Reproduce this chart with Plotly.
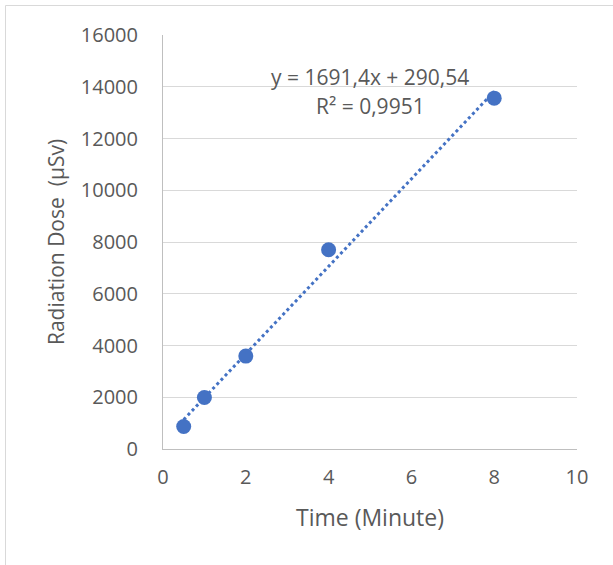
import plotly.graph_objects as go

time_min = [0.5, 1, 2, 4, 8]
dose_usv = [870, 1990, 3590, 7700, 13560]
trend_slope = 1691.4
trend_intercept = 290.54
eq_text = "y = 1691,4x + 290,54"
r2_text = "R² = 0,9951"
x_ticks = [0, 2, 4, 6, 8, 10]
y_ticks = [0, 2000, 4000, 6000, 8000, 10000, 12000, 14000, 16000]

BLUE = "#4472C4"
FONT = "Open Sans"
GREY = "#595959"

trend_x = [time_min[0], time_min[-1]]
trend_y = [trend_slope * v + trend_intercept for v in trend_x]

L, T, PW, PH = 163, 35, 414, 414
W, H = 613, 565

fig = go.Figure()
fig.add_trace(go.Scatter(x=trend_x, y=trend_y, mode="lines",
                         line=dict(color=BLUE, width=3, dash="dot"),
                         hoverinfo="skip", showlegend=False))
fig.add_trace(go.Scatter(x=time_min, y=dose_usv, mode="markers",
                         marker=dict(color=BLUE, size=15),
                         showlegend=False))

fig.add_annotation(x=5.0, y=14380, xref="x", yref="y", text=eq_text,
                   showarrow=False, font=dict(family=FONT, size=21, color=GREY))
fig.add_annotation(x=5.0, y=13240, xref="x", yref="y", text=r2_text,
                   showarrow=False, font=dict(family=FONT, size=21, color=GREY))

fig.add_shape(type="rect", xref="paper", yref="paper",
              x0=(5.5 - L) / PW, x1=3.0, y0=-3.0, y1=1 + (T - 5.5) / PH,
              line=dict(color="#D9D9D9", width=1), fillcolor="rgba(0,0,0,0)", layer="below")

fig.update_layout(
    width=W, height=H,
    margin=dict(l=L, r=W - L - PW, t=T, b=H - T - PH),
    paper_bgcolor="white", plot_bgcolor="white",
    font=dict(family=FONT, color=GREY, size=20),
    xaxis=dict(range=[0, 10], tickvals=x_ticks, tickformat="d", showgrid=False,
               showline=True, linecolor="#BFBFBF", linewidth=1,
               zeroline=False, ticks="", ticklabelstandoff=10,
               tickfont=dict(size=20),
               title=dict(text="Time (Minute)", font=dict(size=23), standoff=20)),
    yaxis=dict(range=[0, 16000], tickvals=y_ticks, tickformat="d", showgrid=True,
               gridcolor="#D9D9D9", gridwidth=1,
               showline=True, linecolor="#BFBFBF", linewidth=1,
               zeroline=False, ticks="", ticklabelstandoff=20,
               tickfont=dict(size=20),
               title=dict(text="Radiation Dose  (µSv)", font=dict(size=21), standoff=10)),
)

fig.write_html("out.html", config={"displayModeBar": False},
               post_script="document.body.style.margin='0';document.body.style.padding='0';")
